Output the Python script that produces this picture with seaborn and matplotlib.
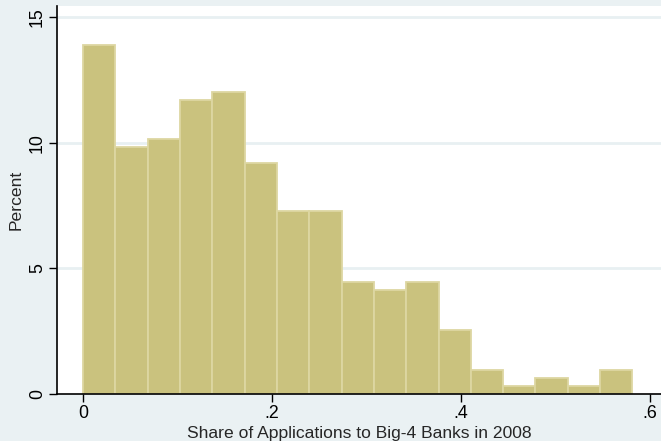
import matplotlib
matplotlib.use("Agg")
import matplotlib.pyplot as plt
import seaborn as sns
import numpy as np

# Histogram of bank application shares (percent of firms per bin)
bin_edges = [0.0, 0.0342, 0.0684, 0.1026, 0.1368, 0.1710, 0.2052, 0.2394, 0.2736,
             0.3078, 0.3420, 0.3762, 0.4104, 0.4446, 0.4788, 0.5130, 0.5472, 0.5814]
percent = [13.9, 9.82, 10.13, 11.71, 12.0, 9.18, 7.27, 7.27,
           4.44, 4.13, 4.44, 2.53, 0.94, 0.33, 0.65, 0.33, 0.94]
x_ticks = [0, 0.2, 0.4, 0.6]
x_labels = ["0", ".2", ".4", ".6"]
y_ticks = [0, 5, 10, 15]
y_labels = ["0", "5", "10", "15"]

bin_centers = [(a + b) / 2 for a, b in zip(bin_edges[:-1], bin_edges[1:])]

sns.set_style("white")
plt.rcParams["font.family"] = ["Liberation Sans", "DejaVu Sans"]

bg = "#EAF1F3"
fig = plt.figure(figsize=(6.61, 4.41), dpi=100, facecolor=bg)
ax = fig.add_axes([57 / 661, 47 / 441, 604 / 661, 388 / 441])
ax.set_facecolor("white")

sns.histplot(x=bin_centers, weights=percent, bins=bin_edges, stat="count",
             color="#CAC27E", edgecolor="#DDD7A2", linewidth=1.3, alpha=1,
             ax=ax, zorder=2)

ax.set_xlim(-0.0275, 0.6116)
ax.set_ylim(0, 15.44)

for y in y_ticks[1:]:
    ax.axhline(y, color="#E8F0F2", linewidth=2, zorder=1)

ax.set_xticks(x_ticks)
ax.set_xticklabels(x_labels)
ax.set_yticks(y_ticks)
ax.set_yticklabels(y_labels, rotation=90, va="center")
ax.tick_params(axis="both", direction="out", length=6, width=1, color="black",
               labelsize=12.8, labelcolor="black", pad=2)
ax.tick_params(axis="x", bottom=True)
ax.tick_params(axis="y", left=True)

for side in ["top", "right"]:
    ax.spines[side].set_visible(False)
for side in ["left", "bottom"]:
    ax.spines[side].set_visible(True)
    ax.spines[side].set_color("black")
    ax.spines[side].set_linewidth(1.2)

ax.set_xlabel("Share of Applications to Big-4 Banks in 2008", fontsize=12.6, labelpad=2.5)
ax.set_ylabel("Percent", fontsize=12.6, labelpad=4)

fig.savefig("out.png", dpi=100, facecolor=bg)
